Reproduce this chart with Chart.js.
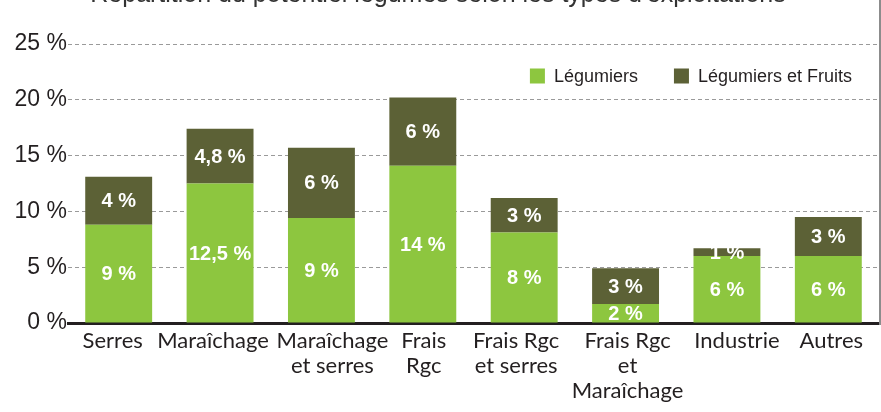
<!DOCTYPE html>
<html>
<head>
<meta charset="utf-8">
<script src="https://cdn.jsdelivr.net/npm/chart.js@4.4.1/dist/chart.umd.min.js"></script>
<style>
  html, body { margin: 0; padding: 0; background: #ffffff; }
  #wrap { width: 881px; height: 412px; position: relative; }
</style>
</head>
<body>
<div id="wrap"><canvas id="c" width="881" height="412"></canvas></div>
<script>
const chartTitle = "Répartition du potentiel légumes selon les types d'exploitations";
const categories = [
  ["Serres"],
  ["Maraîchage"],
  ["Maraîchage", "et serres"],
  ["Frais", "Rgc"],
  ["Frais Rgc", "et serres"],
  ["Frais Rgc", "et", "Maraîchage"],
  ["Industrie"],
  ["Autres"]
];
const seriesNames = ["Légumiers", "Légumiers et Fruits"];
const legumiers = [8.8, 12.5, 9.4, 14.1, 8.1, 1.7, 6.0, 6.0];
const legumiersFruits = [4.3, 4.9, 6.3, 6.1, 3.1, 3.2, 0.7, 3.5];
const legumiersLabels = ["9 %", "12,5 %", "9 %", "14 %", "8 %", "2 %", "6 %", "6 %"];
const legumiersFruitsLabels = ["4 %", "4,8 %", "6 %", "6 %", "3 %", "3 %", "1 %", "3 %"];
const yTickValues = [0, 5, 10, 15, 20, 25];

const GREEN = "#8dc63f";
const OLIVE = "#5c6136";
const TEXT = "#231f20";

// small horizontal nudges of the category labels (as in the original, to keep wide labels apart)
const labelNudges = [-6, -7, 11, 1, -8, 2, 10, 3];

const labelNudgePlugin = {
  id: "labelNudge",
  beforeDraw(chart) {
    const items = chart.scales.x.getLabelItems();
    items.forEach((it, i) => {
      if (!it._nudged) {
        it.options.translation[0] += labelNudges[i] || 0;
        it._nudged = true;
      }
    });
  }
};

const valueLabelPlugin = {
  id: "valueLabels",
  afterDatasetsDraw(chart) {
    const ctx = chart.ctx;
    ctx.save();
    ctx.fillStyle = "#ffffff";
    ctx.font = "bold 20px 'Liberation Sans', Arial, sans-serif";
    ctx.textAlign = "center";
    ctx.textBaseline = "middle";
    chart.data.datasets.forEach((ds, di) => {
      const meta = chart.getDatasetMeta(di);
      meta.data.forEach((bar, i) => {
        const p = bar.getProps(["x", "y", "base"], true);
        ctx.fillText(ds.valueLabels[i], p.x, (p.y + p.base) / 2 + 1);
      });
    });
    ctx.restore();
  }
};

const legendPlugin = {
  id: "insideLegend",
  afterDraw(chart) {
    const ctx = chart.ctx;
    const area = chart.chartArea;
    ctx.save();
    ctx.font = "18px 'Liberation Sans', Arial, sans-serif";
    ctx.textBaseline = "middle";
    ctx.textAlign = "left";
    const box = 15, gapBoxText = 9, gapItems = 36;
    const cy = area.top + 32;
    let x = area.right - 27;
    const items = chart.data.datasets.map(d => ({ label: d.label, color: d.backgroundColor }));
    for (let i = items.length - 1; i >= 0; i--) {
      const w = ctx.measureText(items[i].label).width;
      const tx = x - w;
      ctx.fillStyle = TEXT;
      ctx.fillText(items[i].label, tx, cy + 1);
      const bx = tx - gapBoxText - box;
      ctx.fillStyle = items[i].color;
      ctx.fillRect(bx, cy - box / 2, box, box);
      x = bx - gapItems;
    }
    ctx.restore();
  }
};

const framePlugin = {
  id: "frame",
  afterDraw(chart) {
    const ctx = chart.ctx;
    const area = chart.chartArea;
    ctx.save();
    // title, cut off by the top edge of the picture
    ctx.fillStyle = "#333333";
    ctx.font = "25px 'Liberation Sans', Arial, sans-serif";
    ctx.textAlign = "center";
    ctx.textBaseline = "alphabetic";
    ctx.fillText(chartTitle, 438, 2);
    // right frame edge
    ctx.strokeStyle = "#8c8c8c";
    ctx.lineWidth = 2;
    ctx.beginPath();
    ctx.moveTo(area.right + 1, 0);
    ctx.lineTo(area.right + 1, area.bottom + 2);
    ctx.stroke();
    ctx.restore();
  }
};

new Chart(document.getElementById("c"), {
  type: "bar",
  data: {
    labels: categories,
    datasets: [
      { label: seriesNames[0], data: legumiers, valueLabels: legumiersLabels, backgroundColor: GREEN, borderWidth: 0 },
      { label: seriesNames[1], data: legumiersFruits, valueLabels: legumiersFruitsLabels, backgroundColor: OLIVE, borderWidth: 0 }
    ]
  },
  options: {
    responsive: false,
    animation: false,
    devicePixelRatio: 1,
    layout: { padding: { top: 44, right: 2, left: 0, bottom: 0 } },
    datasets: { bar: { barPercentage: 0.66, categoryPercentage: 1.0 } },
    plugins: {
      legend: { display: false },
      title: { display: false },
      tooltip: { enabled: false }
    },
    scales: {
      x: {
        stacked: true,
        grid: { display: false, drawTicks: false },
        border: { display: true, color: TEXT, width: 3 },
        ticks: {
          color: TEXT,
          padding: 5,
          maxRotation: 0,
          autoSkip: false,
          font: { family: "Lato, sans-serif", size: 22, lineHeight: "25px" }
        },
        afterFit(s) { s.height = 89; }
      },
      y: {
        stacked: true,
        min: 0,
        max: 25,
        afterBuildTicks(s) { s.ticks = yTickValues.map(v => ({ value: v })); },
        grid: { color: "#9a9a9a", lineWidth: 1, drawTicks: false },
        border: { display: false, dash: [4, 3] },
        ticks: {
          color: TEXT,
          padding: 1,
          font: { family: "'Liberation Sans', Arial, sans-serif", size: 23 },
          callback: v => v + " %"
        },
        afterFit(s) { s.width = 68; }
      }
    }
  },
  plugins: [labelNudgePlugin, valueLabelPlugin, legendPlugin, framePlugin]
});
</script>
</body>
</html>
